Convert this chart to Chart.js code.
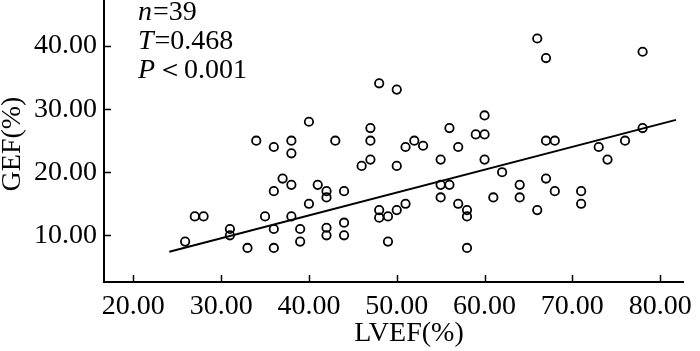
<!DOCTYPE html>
<html>
<head>
<meta charset="utf-8">
<script src="https://cdn.jsdelivr.net/npm/chart.js@4/dist/chart.umd.min.js"></script>
<style>
html, body { margin: 0; padding: 0; background: #fff; }
</style>
</head>
<body>
<canvas id="myChart" width="700" height="351"></canvas>
<script>
// values (LVEF on x, GEF on y)
var lvef = [25.9, 27, 28, 31, 31, 33, 34, 35, 36, 36, 36, 36, 37, 38, 38, 38, 38, 39, 39, 40,
    40, 41, 42, 42, 42, 42, 43, 44, 44, 44, 46, 47, 47, 47, 48, 48, 49, 49, 50, 50,
    51, 51, 52, 53, 55, 55, 55, 56, 56, 57, 57, 58, 58, 58, 59, 60, 60, 60, 61, 62,
    64, 64, 66, 67, 68, 67, 68, 71, 71, 73, 74, 76, 78, 66, 67, 78, 48, 50]
var gef = [9, 13, 13, 11, 10, 8, 25, 13, 24, 17, 11, 8, 19, 25, 23, 18, 13, 11, 9, 28,
    15, 18, 17, 16, 11.2, 10, 25, 17, 12, 10, 21, 27, 25, 22, 14, 12.8, 13, 9, 21, 14,
    15, 24, 25, 24.2, 22, 18, 16, 27, 18, 24, 15, 14, 13, 8, 26, 26, 29, 22, 16, 20,
    18, 16, 14, 25, 25, 19, 17, 17, 15, 24, 22, 25, 27, 41.2, 38.1, 39.1, 34.1, 33.1]

// fitted line end points
var fitX = [24.1, 81.8]
var fitY = [7.4, 28.3]

var xTicks = [20, 30, 40, 50, 60, 70, 80]
var yTicks = [10, 20, 30, 40]

var FONT = "'Liberation Serif', 'DejaVu Serif', serif"

var points = lvef.map(function (v, i) { return { x: v, y: gef[i] } })
var fitLine = fitX.map(function (v, i) { return { x: v, y: fitY[i] } })

// inward tick marks, axis titles and the n / T / P note
var extras = {
    id: 'extras',
    afterDraw: function (chart) {
        var c = chart.ctx
        var a = chart.chartArea
        var xs = chart.scales.x, ys = chart.scales.y
        c.save()
        c.strokeStyle = '#000'
        c.lineWidth = 1.5
        c.beginPath()
        xTicks.forEach(function (v) {
            var px = Math.round(xs.getPixelForValue(v)) + 0.5
            c.moveTo(px, a.bottom)
            c.lineTo(px, a.bottom - 7)
        })
        yTicks.forEach(function (v) {
            var py = Math.round(ys.getPixelForValue(v)) + 0.5
            c.moveTo(a.left, py)
            c.lineTo(a.left + 7, py)
        })
        c.stroke()

        c.fillStyle = '#000'
        c.font = '28px ' + FONT
        c.textAlign = 'center'
        c.textBaseline = 'middle'
        c.fillText('LVEF(%)', 409, 334)
        c.save()
        c.translate(13, 144)
        c.rotate(-Math.PI / 2)
        c.fillText('GEF(%)', 0, 0)
        c.restore()

        c.textAlign = 'left'
        var note = [['n', '=39', 13], ['T', '=0.468', 42], ['P', '＜0.001', 71]]
        note.forEach(function (n) {
            c.font = 'italic 28px ' + FONT
            c.fillText(n[0], 138, n[2])
            var w = c.measureText(n[0]).width
            c.font = '28px ' + FONT
            c.fillText(n[1], 138 + w + 1, n[2])
        })
        c.restore()
    }
}

var ctx = document.getElementById('myChart').getContext('2d')
var chart = new Chart(ctx, {
    type: 'scatter',
    data: {
        datasets: [{
            data: points,
            pointRadius: 4.2,
            pointHoverRadius: 4.2,
            borderWidth: 1.8,
            borderColor: '#000',
            backgroundColor: 'rgba(0,0,0,0)'
        }, {
            type: 'line',
            data: fitLine,
            borderColor: '#000',
            borderWidth: 2,
            pointRadius: 0,
            fill: false
        }]
    },
    options: {
        responsive: false,
        animation: false,
        devicePixelRatio: 1,
        layout: { autoPadding: false, padding: { left: 0, right: 17, top: 0, bottom: 0 } },
        plugins: { legend: { display: false }, tooltip: { enabled: false } },
        scales: {
            x: {
                type: 'linear',
                min: 16.66,
                max: 82.6,
                afterBuildTicks: function (s) { s.ticks = xTicks.map(function (v) { return { value: v } }) },
                afterFit: function (s) { s.height = 69; s.paddingLeft = 0; s.paddingRight = 0 },
                grid: { drawOnChartArea: false, drawTicks: false },
                border: { color: '#000', width: 2 },
                ticks: {
                    color: '#000',
                    padding: 8,
                    maxRotation: 0,
                    font: { family: FONT, size: 28 },
                    callback: function (v) { return v.toFixed(2) }
                }
            },
            y: {
                type: 'linear',
                min: 2.6,
                max: 47.3,
                afterBuildTicks: function (s) { s.ticks = yTicks.map(function (v) { return { value: v } }) },
                afterFit: function (s) { s.width = 104; s.paddingTop = 0; s.paddingBottom = 0 },
                grid: { drawOnChartArea: false, drawTicks: false },
                border: { color: '#000', width: 2 },
                ticks: {
                    color: '#000',
                    padding: 7,
                    font: { family: FONT, size: 28 },
                    callback: function (v) { return v.toFixed(2) }
                }
            }
        }
    },
    plugins: [extras]
})
</script>
</body>
</html>
